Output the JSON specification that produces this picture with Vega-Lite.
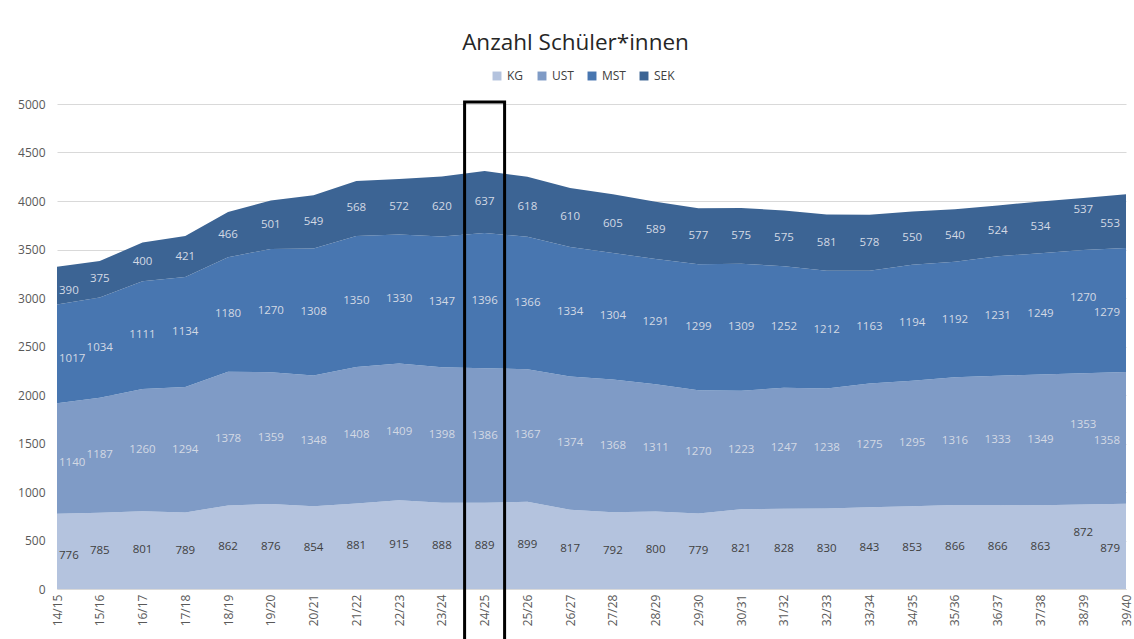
{
  "$schema": "https://vega.github.io/schema/vega-lite/v6.json",
  "width": 1069,
  "height": 485,
  "autosize": "none",
  "padding": {"left": 57, "top": 104, "right": 8, "bottom": 50},
  "background": "white",
  "title": {
    "text": "Anzahl Schüler*innen",
    "font": "Open Sans",
    "fontSize": 22.5,
    "fontWeight": "normal",
    "color": "#262626",
    "anchor": "middle",
    "dx": -16,
    "offset": 16
  },
  "config": {
    "view": {"stroke": null},
    "font": "Open Sans"
  },
  "data": {
    "values": [
      {"year": "14/15", "KG": 776, "UST": 1140, "MST": 1017, "SEK": 390},
      {"year": "15/16", "KG": 785, "UST": 1187, "MST": 1034, "SEK": 375},
      {"year": "16/17", "KG": 801, "UST": 1260, "MST": 1111, "SEK": 400},
      {"year": "17/18", "KG": 789, "UST": 1294, "MST": 1134, "SEK": 421},
      {"year": "18/19", "KG": 862, "UST": 1378, "MST": 1180, "SEK": 466},
      {"year": "19/20", "KG": 876, "UST": 1359, "MST": 1270, "SEK": 501},
      {"year": "20/21", "KG": 854, "UST": 1348, "MST": 1308, "SEK": 549},
      {"year": "21/22", "KG": 881, "UST": 1408, "MST": 1350, "SEK": 568},
      {"year": "22/23", "KG": 915, "UST": 1409, "MST": 1330, "SEK": 572},
      {"year": "23/24", "KG": 888, "UST": 1398, "MST": 1347, "SEK": 620},
      {"year": "24/25", "KG": 889, "UST": 1386, "MST": 1396, "SEK": 637},
      {"year": "25/26", "KG": 899, "UST": 1367, "MST": 1366, "SEK": 618},
      {"year": "26/27", "KG": 817, "UST": 1374, "MST": 1334, "SEK": 610},
      {"year": "27/28", "KG": 792, "UST": 1368, "MST": 1304, "SEK": 605},
      {"year": "28/29", "KG": 800, "UST": 1311, "MST": 1291, "SEK": 589},
      {"year": "29/30", "KG": 779, "UST": 1270, "MST": 1299, "SEK": 577},
      {"year": "30/31", "KG": 821, "UST": 1223, "MST": 1309, "SEK": 575},
      {"year": "31/32", "KG": 828, "UST": 1247, "MST": 1252, "SEK": 575},
      {"year": "32/33", "KG": 830, "UST": 1238, "MST": 1212, "SEK": 581},
      {"year": "33/34", "KG": 843, "UST": 1275, "MST": 1163, "SEK": 578},
      {"year": "34/35", "KG": 853, "UST": 1295, "MST": 1194, "SEK": 550},
      {"year": "35/36", "KG": 866, "UST": 1316, "MST": 1192, "SEK": 540},
      {"year": "36/37", "KG": 866, "UST": 1333, "MST": 1231, "SEK": 524},
      {"year": "37/38", "KG": 863, "UST": 1349, "MST": 1249, "SEK": 534},
      {"year": "38/39", "KG": 872, "UST": 1353, "MST": 1270, "SEK": 537},
      {"year": "39/40", "KG": 879, "UST": 1358, "MST": 1279, "SEK": 553}
    ]
  },
  "transform": [
    {"fold": ["KG", "UST", "MST", "SEK"], "as": ["grp", "value"]},
    {"calculate": "indexof(['KG','UST','MST','SEK'], datum.grp)", "as": "k"},
    {"stack": "value", "groupby": ["year"], "sort": [{"field": "k", "order": "ascending"}], "as": ["v0", "v1"]},
    {"calculate": "(datum.v0 + datum.v1) / 2", "as": "mid"}
  ],
  "encoding": {
    "x": {
      "field": "year",
      "type": "ordinal",
      "scale": {"type": "point", "padding": 0},
      "axis": {
        "title": null,
        "labelAngle": -90,
        "labelFontSize": 12,
        "labelColor": "#595959",
        "labelPadding": 5,
        "ticks": false,
        "domain": true,
        "domainColor": "#d9d9d9",
        "grid": false
      }
    }
  },
  "layer": [
    {
      "mark": {"type": "area", "interpolate": "linear"},
      "encoding": {
        "y": {
          "field": "v1",
          "type": "quantitative",
          "stack": null,
          "scale": {"domain": [0, 5000], "nice": false},
          "axis": {
            "title": null,
            "format": "d",
            "values": [0, 500, 1000, 1500, 2000, 2500, 3000, 3500, 4000, 4500, 5000],
            "labelFontSize": 12,
            "labelColor": "#595959",
            "labelPadding": 12,
            "ticks": false,
            "domain": false,
            "gridColor": "#d9d9d9",
            "gridWidth": 1
          }
        },
        "y2": {"field": "v0"},
        "color": {
          "field": "grp",
          "type": "nominal",
          "sort": ["KG", "UST", "MST", "SEK"],
          "scale": {
            "domain": ["KG", "UST", "MST", "SEK"],
            "range": ["#b4c3de", "#7f9bc6", "#4876b0", "#3c6494"]
          },
          "legend": {
            "title": null,
            "orient": "none",
            "direction": "horizontal",
            "legendX": 434,
            "legendY": -34,
            "symbolType": "square",
            "symbolSize": 80,
            "symbolStrokeWidth": 0,
            "labelFontSize": 12,
            "labelColor": "#404040",
            "columnPadding": 12,
            "labelOffset": 4
          }
        },
        "order": {"field": "k"}
      }
    },
    {
      "transform": [{"filter": "datum.year !== '14/15' && datum.year !== '39/40' && datum.year !== '38/39'"}],
      "mark": {"type": "text", "fontSize": 11.5, "align": "center", "baseline": "middle"},
      "encoding": {
        "y": {"field": "mid", "type": "quantitative"},
        "text": {"field": "value", "type": "quantitative"},
        "color": {"condition": {"test": "datum.grp === 'KG'", "value": "#404040"}, "value": "#d3d9e4"}
      }
    },
    {
      "transform": [{"filter": "datum.year === '38/39'"}],
      "mark": {"type": "text", "fontSize": 11.5, "align": "center", "baseline": "middle", "dy": -14},
      "encoding": {
        "y": {"field": "mid", "type": "quantitative"},
        "text": {"field": "value", "type": "quantitative"},
        "color": {"condition": {"test": "datum.grp === 'KG'", "value": "#404040"}, "value": "#d3d9e4"}
      }
    },
    {
      "transform": [{"filter": "datum.year === '14/15'"}],
      "mark": {"type": "text", "fontSize": 11.5, "align": "left", "baseline": "middle", "dx": 2, "dy": 5},
      "encoding": {
        "y": {"field": "mid", "type": "quantitative"},
        "text": {"field": "value", "type": "quantitative"},
        "color": {"condition": {"test": "datum.grp === 'KG'", "value": "#404040"}, "value": "#d3d9e4"}
      }
    },
    {
      "transform": [{"filter": "datum.year === '39/40'"}],
      "mark": {"type": "text", "fontSize": 11.5, "align": "right", "baseline": "middle", "dx": -6, "dy": 3},
      "encoding": {
        "y": {"field": "mid", "type": "quantitative"},
        "text": {"field": "value", "type": "quantitative"},
        "color": {"condition": {"test": "datum.grp === 'KG'", "value": "#404040"}, "value": "#d3d9e4"}
      }
    },
    {
      "data": {"values": [{"year": "24/25"}]},
      "transform": [],
      "mark": {"type": "bar", "width": 40, "fill": "transparent", "stroke": "black", "strokeWidth": 3, "clip": false},
      "encoding": {
        "y": {"datum": 5020, "type": "quantitative"},
        "y2": {"datum": -700}
      }
    }
  ]
}
